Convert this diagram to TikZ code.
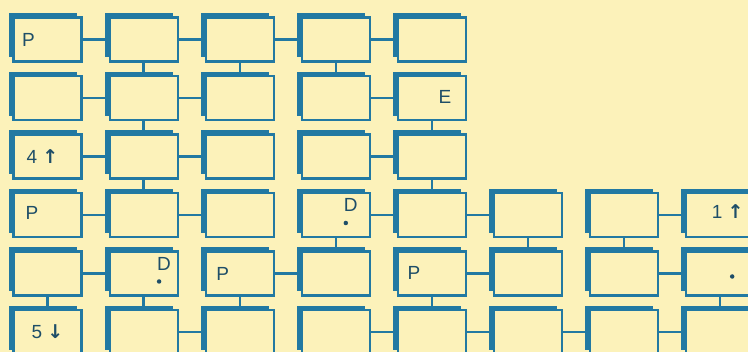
\documentclass[tikz,border=0pt]{standalone}
\usepackage{fontspec}
\setmainfont{Liberation Sans}
\newfontfamily\arrowfont{DejaVu Sans}
\usetikzlibrary{shadows,calc}
\definecolor{bg}{RGB}{252,242,186}
\definecolor{bb}{RGB}{34,121,162}
\definecolor{ink}{RGB}{30,78,104}
\begin{document}
\begin{tikzpicture}[x=1pt,y=-1pt,
  box/.style={draw=bb, line width=2.2pt, fill=bg, minimum width=68pt, minimum height=44pt, inner sep=0pt,
    general shadow={shadow xshift=-5pt, shadow yshift=4pt, fill=bb}},
  link/.style={draw=bb, line width=2.4pt},
  lbl/.style={text=ink, font=\fontsize{19}{19}\selectfont, inner sep=0pt},
  dotm/.style={circle, fill=ink, minimum size=4.5pt, inner sep=0pt}]
\fill[bg] (0,0) rectangle (748,352);
\useasboundingbox (0,0) rectangle (748,352);
\foreach \r in {0,...,5} {
  \pgfmathtruncatemacro\nc{\r<3 ? 4 : 7}
  \foreach \c in {0,...,\nc} {
    \node[box] (b-\r-\c) at ({47.5+96.1*\c},{39.5+58.5*\r}) {};
  }
}
% horizontal connectors
\foreach \r/\c in {0/0,0/1,0/2,0/3, 1/0,1/1,1/3, 2/0,2/1,2/3, 3/0,3/1,3/3,3/4,3/6, 4/0,4/2,4/4,4/6, 5/1,5/3,5/4,5/5,5/6} {
  \pgfmathtruncatemacro\d{\c+1}
  \draw[link] (b-\r-\c.east) -- (b-\r-\d.west);
}
% vertical connectors
\foreach \r/\c in {0/1,0/2,0/3, 1/1,1/4, 2/1,2/4, 3/3,3/5,3/6, 4/0,4/1,4/2,4/4,4/7} {
  \pgfmathtruncatemacro\s{\r+1}
  \draw[link] (b-\r-\c.south) -- (b-\s-\c.north);
}
% labels
\node[lbl] (t-0-0) at ($(b-0-0)+(-19,0)$) {P};
\node[lbl] (t-1-4) at ($(b-1-4)+(13,-1)$) {E};
\node[lbl] (t-2-0) at ($(b-2-0)+(-5,0)$) {4 {\arrowfont\bfseries ↑}};
\node[lbl] (t-3-0) at ($(b-3-0)+(-15.5,-2)$) {P};
\node[lbl] (t-3-3) at ($(b-3-3)+(15,-10)$) {D};
\node[dotm] (d-3-3) at ($(b-3-3)+(10,8)$) {};
\node[lbl] (t-4-1) at ($(b-4-1)+(20.5,-10)$) {D};
\node[dotm] (d-4-1) at ($(b-4-1)+(15.5,8)$) {};
\node[lbl] (t-4-2) at ($(b-4-2)+(-17,0)$) {P};
\node[lbl] (t-4-4) at ($(b-4-4)+(-18,-1)$) {P};
\node[lbl] (t-5-0) at ($(b-5-0)+(0,0)$) {5 {\arrowfont\bfseries ↓}};
\node[lbl] (t-3-7) at ($(b-3-7)+(7.5,-3)$) {1 {\arrowfont\bfseries ↑}};
\node[dotm] (d-4-7) at ($(b-4-7)+(12,3)$) {};
\end{tikzpicture}
\end{document}
